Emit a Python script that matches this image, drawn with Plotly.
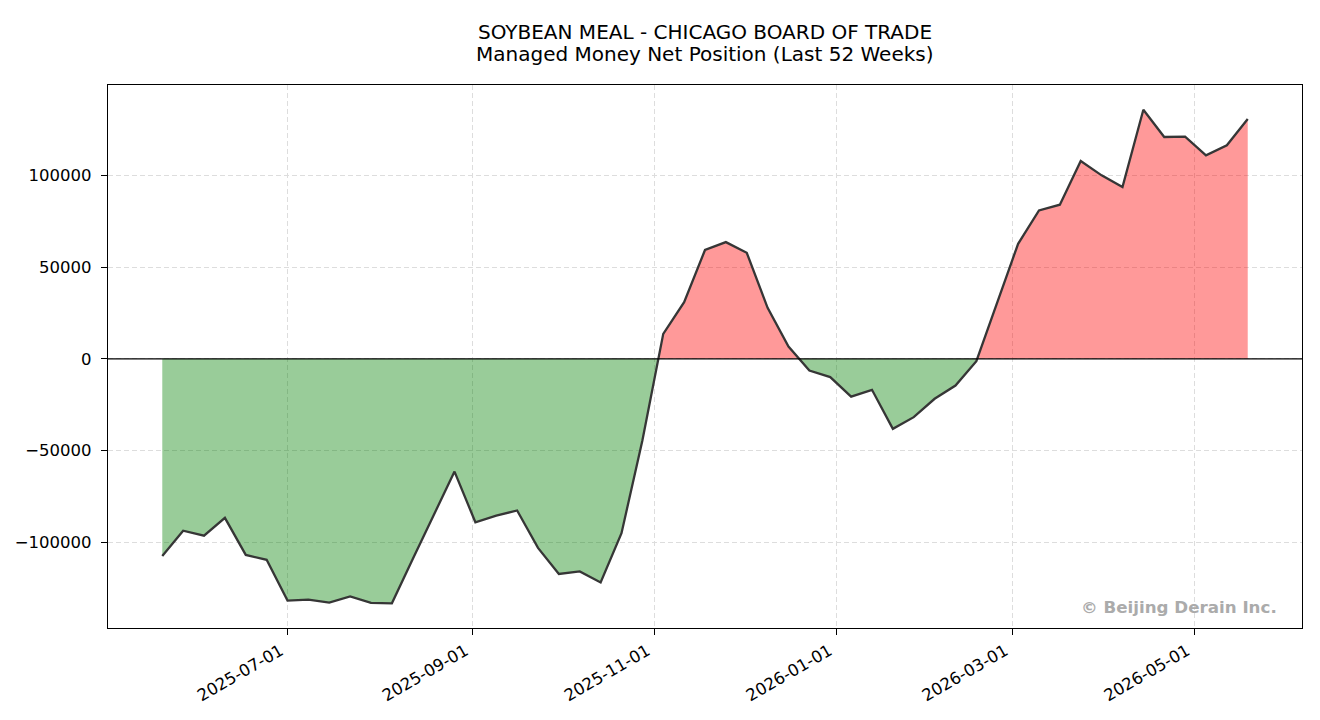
import plotly.graph_objs as go
import pandas as pd

# weekly report dates and managed money net position
first_date = "2025-05-20"
n_weeks = 53
net_position = [
    -107500, -93700, -96400, -86700, -106900, -109600, -131800, -131300,
    -132900, -129500, -133100, -133300, -109100, -85300, -61500, -89100,
    -85500, -82700, -103100, -117300, -115900, -121900, -95100, -44500,
    13600, 30900, 59300, 63600, 57800, 27800, 6700, -6400,
    -10000, -20600, -16900, -38200, -31800, -21800, -14600, -1300,
    31300, 62700, 80900, 84000, 107800, 100000, 93600, 135800,
    120900, 121100, 110900, 116400, 130700,
]
x_ticks = ["2025-07-01", "2025-09-01", "2025-11-01", "2026-01-01", "2026-03-01", "2026-05-01"]
y_ticks = [-100000, -50000, 0, 50000, 100000]
y_labels = ["\u2212100000", "\u221250000", "0", "50000", "100000"]

dates = list(pd.date_range(first_date, periods=n_weeks, freq="7D"))


def split_at_zero(xs, ys):
    # add the zero crossings so the two fills meet where the line crosses 0
    out_x, out_y = [xs[0]], [ys[0]]
    for i in range(1, len(xs)):
        y0, y1 = ys[i - 1], ys[i]
        if (y0 < 0 < y1) or (y1 < 0 < y0):
            frac = y0 / (y0 - y1)
            out_x.append(xs[i - 1] + (xs[i] - xs[i - 1]) * frac)
            out_y.append(0)
        out_x.append(xs[i])
        out_y.append(ys[i])
    return out_x, out_y


fx, fy = split_at_zero(dates, net_position)
pos = [max(v, 0) for v in fy]
neg = [min(v, 0) for v in fy]

fig = go.Figure()
fig.add_trace(go.Scatter(x=fx, y=neg, fill="tozeroy", mode="lines",
                         line=dict(width=0), fillcolor="rgba(0,128,0,0.4)",
                         hoverinfo="skip", showlegend=False))
fig.add_trace(go.Scatter(x=fx, y=pos, fill="tozeroy", mode="lines",
                         line=dict(width=0), fillcolor="rgba(255,0,0,0.4)",
                         hoverinfo="skip", showlegend=False))
fig.add_trace(go.Scatter(x=dates, y=net_position, mode="lines",
                         line=dict(color="#363636", width=2.3),
                         name="Net Position", showlegend=False))
fig.add_hline(y=0, line=dict(color="black", width=1.2))

span = dates[-1] - dates[0]
x_range = [dates[0] - span * 0.05, dates[-1] + span * 0.05]
y_span = max(net_position) - min(net_position)
y_range = [min(net_position) - y_span * 0.05, max(net_position) + y_span * 0.05]

# page body adds 8px around the figure, so size is trimmed to fit the window
fig.update_layout(
    width=1312, height=712,
    margin=dict(l=100, r=18, t=77, b=92),
    plot_bgcolor="white", paper_bgcolor="white",
    font=dict(family="DejaVu Sans", size=16.5, color="black"),
    title=dict(text="SOYBEAN MEAL - CHICAGO BOARD OF TRADE",
               x=0.5, xref="paper", xanchor="center",
               y=1 - 24 / 712, yanchor="middle", yref="container",
               font=dict(size=20, color="black")),
    annotations=[
        dict(text="Managed Money Net Position (Last 52 Weeks)", xref="paper", yref="paper",
             x=0.5, y=1, xanchor="center", yanchor="middle", yshift=31,
             showarrow=False, font=dict(size=20, color="black")),
        dict(text="<b>© Beijing Derain Inc.</b>", xref="paper", yref="paper",
             x=1, y=0, xanchor="right", yanchor="middle", xshift=-23, yshift=21,
             showarrow=False, font=dict(size=16.7, color="#ababab")),
    ],
)
fig.update_xaxes(
    range=x_range, tickvals=x_ticks, ticktext=x_ticks, tickangle=-30,
    ticklabelshift=-7,
    showline=True, mirror=True, linecolor="black", linewidth=1.2,
    ticks="outside", ticklen=6, tickcolor="black", automargin=False,
    showgrid=True, gridcolor="#dddddd", griddash="5px,3px", zeroline=False,
)
fig.update_yaxes(
    range=y_range, tickvals=y_ticks, ticktext=y_labels, ticklabelstandoff=6,
    showline=True, mirror=True, linecolor="black", linewidth=1.2,
    ticks="outside", ticklen=6, tickcolor="black", automargin=False,
    showgrid=True, gridcolor="#dddddd", griddash="5px,3px", zeroline=False,
)

fig.write_html("out.html")
